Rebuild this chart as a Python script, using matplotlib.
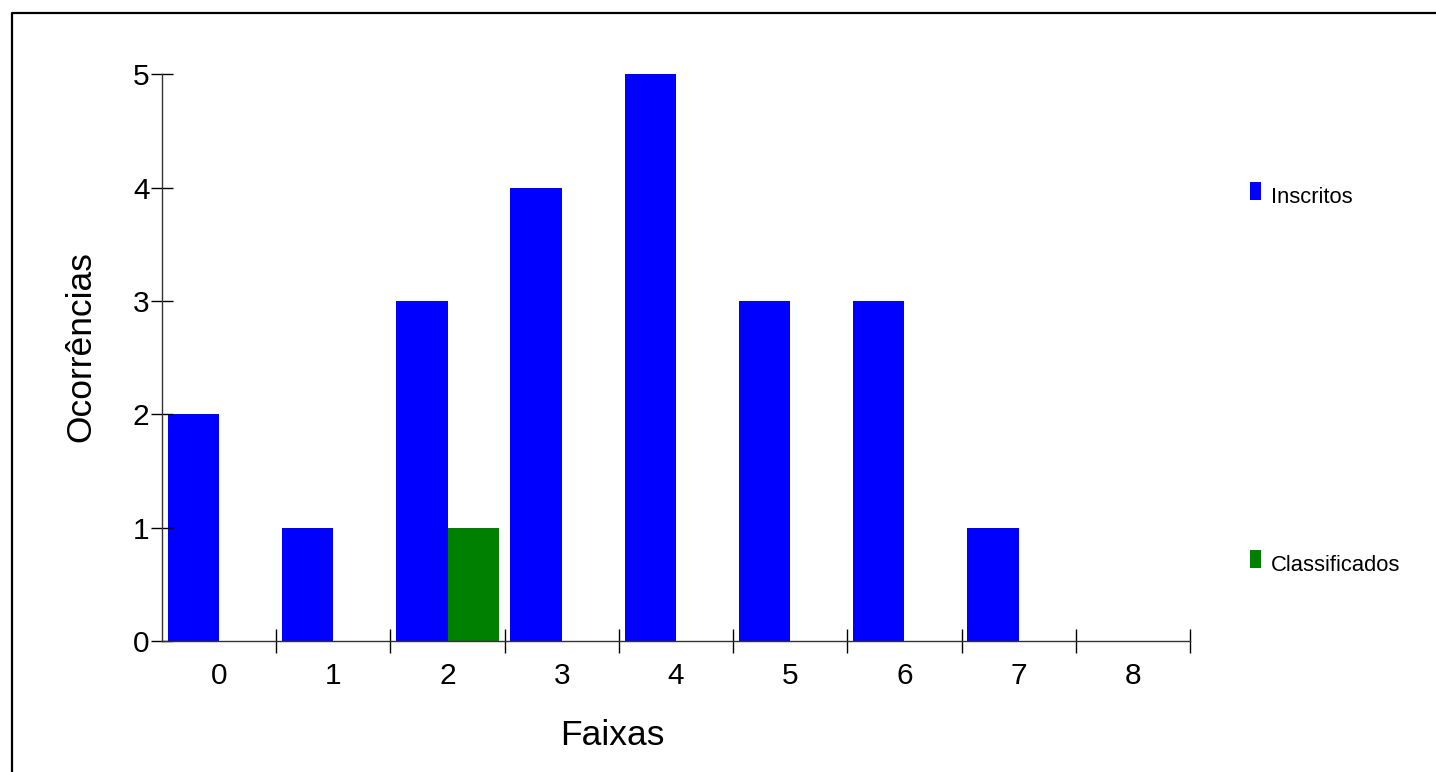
import matplotlib
matplotlib.use("Agg")
import matplotlib.pyplot as plt
from matplotlib.patches import Rectangle
from matplotlib.lines import Line2D
import numpy as np

plt.rcParams['font.family'] = ['Liberation Sans', 'DejaVu Sans']

categories = ['0', '1', '2', '3', '4', '5', '6', '7', '8']
inscritos = [2, 1, 3, 4, 5, 3, 3, 1, 0]
classificados = [0, 0, 1, 0, 0, 0, 0, 0, 0]
series_names = ['Inscritos', 'Classificados']
series_colors = ['#0000ff', '#008000']
y_ticks = [0, 1, 2, 3, 4, 5]
x_label = 'Faixas'
y_label = 'Ocorrências'

W, H = 1436, 772
fig = plt.figure(figsize=(W / 100, H / 100), dpi=100)
ax = fig.add_axes([162 / W, 1 - 641 / H, (1190 - 162) / W, (641 - 74.5) / H])

x = np.arange(len(categories))
bw = 0.45
ax.bar(x - bw, inscritos, width=bw, align='edge', color=series_colors[0], linewidth=0)
ax.bar(x, classificados, width=bw, align='edge', color=series_colors[1], linewidth=0)

ax.set_xlim(-0.5, len(categories) - 0.5)
ax.set_ylim(0, 5)

for s in ['top', 'right']:
    ax.spines[s].set_visible(False)
for s in ['left', 'bottom']:
    ax.spines[s].set_color('#333333')
    ax.spines[s].set_linewidth(1.0)

ax.set_xticks(x)
ax.set_xticklabels(categories, fontsize=21.5)
ax.set_xticks(x + 0.5, minor=True)
ax.tick_params(axis='x', which='major', length=0, pad=15)
ax.tick_params(axis='x', which='minor', direction='inout', length=17, width=1.0, color='black')
ax.set_yticks(y_ticks)
ax.set_yticklabels([str(v) for v in y_ticks], fontsize=21.5)
ax.tick_params(axis='y', which='major', direction='inout', length=16, width=1.0, color='black', pad=1)

fig.text(612 / W, 1 - 745 / H, x_label, fontsize=25.5, ha='center', va='baseline')
fig.text(81 / W, 1 - 347 / H, y_label, fontsize=25.5, ha='center', va='center', rotation=90)

# legend
leg_y = [200, 568]
for name, col, yb in zip(series_names, series_colors, leg_y):
    fig.patches.append(Rectangle((1250 / W, 1 - yb / H), 10.5 / W, 18 / H,
                                 transform=fig.transFigure, facecolor=col, edgecolor='none'))
    fig.text(1271 / W, 1 - (yb + 3) / H, name, fontsize=15.8, ha='left', va='baseline')

# outer border (open on right/bottom)
fig.lines.append(Line2D([12 / W, 12 / W, 1.0], [0.0, 1 - 13 / H, 1 - 13 / H],
                        transform=fig.transFigure, color='black', linewidth=1.6))

fig.savefig('out.png', dpi=100, facecolor='white')
